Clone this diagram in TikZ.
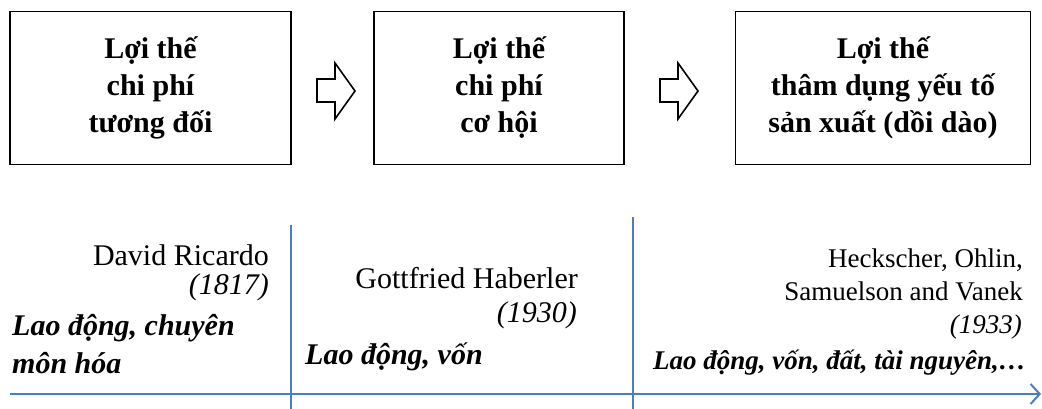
\documentclass[tikz,border=0pt]{standalone}
\usepackage{fontspec}
\setmainfont{Liberation Serif}
\usetikzlibrary{arrows.meta}

\definecolor{lineblue}{HTML}{4A7DC4}

\tikzset{
    box/.style={draw, line width=1.6pt, minimum height=153pt, align=center,
        font=\fontsize{30}{37}\selectfont\bfseries},
    hollow/.style={draw, line width=1.6pt, line join=miter},
    timeline/.style={lineblue, line width=2pt},
    author/.style={inner sep=0pt, font=\fontsize{30}{37}\selectfont},
    year/.style={inner sep=0pt, font=\fontsize{30}{37}\selectfont\itshape},
    factor/.style={inner sep=0pt, font=\fontsize{30}{38}\selectfont\bfseries\itshape},
    smallauthor/.style={inner sep=0pt, font=\fontsize{27}{33}\selectfont},
    smallyear/.style={inner sep=0pt, font=\fontsize{27}{33}\selectfont\itshape},
    smallfactor/.style={inner sep=0pt, font=\fontsize{27}{33}\selectfont\bfseries\itshape}
}

\begin{document}
\begin{tikzpicture}[x=1pt, y=-1pt]
    \useasboundingbox (0,0) rectangle (1042,409);

    % Boxes
    \node[box, minimum width=281pt] (ricardobox) at (150.5,88) {Lợi thế\\chi phí\\tương đối};
    \node[box, minimum width=250pt] (haberlerbox) at (499,88) {Lợi thế\\chi phí\\cơ hội};
    \node[box, minimum width=295pt] (hobox) at (883,88) {Lợi thế\\thâm dụng yếu tố\\sản xuất (dồi dào)};

    % Hollow arrows
    \foreach \x in {317,660}
        \draw[hollow] (\x,79) -- (\x+18,79) -- (\x+18,63) -- (\x+38,91)
            -- (\x+18,119) -- (\x+18,102) -- (\x,102) -- cycle;

    % Timeline
    \coordinate (axisstart) at (10,394);
    \coordinate (axisend) at (1041,394);
    \coordinate (div1top) at (290.5,225);
    \coordinate (div1bot) at (290.5,409);
    \coordinate (div2top) at (633,217);
    \coordinate (div2bot) at (633,409);
    \draw[timeline, -{Straight Barb[length=9pt, width=20pt, line width=2pt]}] (axisstart) -- (axisend);
    \draw[timeline] (div1top) -- (div1bot);
    \draw[timeline] (div2top) -- (div2bot);

    % Column 1
    \node[author, anchor=base east] (ricardo) at (269,265) {David Ricardo};
    \node[year, anchor=base east] (ricardoyear) at (269,294) {(1817)};
    \node[factor, anchor=base west] (ricardofactor) at (12,335) {Lao động, chuyên};
    \node[factor, anchor=base west] (ricardofactor2) at (12,373) {môn hóa};

    % Column 2
    \node[author, anchor=base east] (haberler) at (578,288) {Gottfried Haberler};
    \node[year, anchor=base east] (haberleryear) at (577,322) {(1930)};
    \node[factor, anchor=base west] (haberlerfactor) at (305,364) {Lao động, vốn};

    % Column 3
    \node[smallauthor, anchor=base east] (ho) at (1023,267) {Heckscher, Ohlin,};
    \node[smallauthor, anchor=base east] (ho2) at (1023,300) {Samuelson and Vanek};
    \node[smallyear, anchor=base east] (hoyear) at (1022,333) {(1933)};
    \node[smallfactor, anchor=base east] (hofactor) at (1026,369) {Lao động, vốn, đất, tài nguyên,…};
\end{tikzpicture}
\end{document}
